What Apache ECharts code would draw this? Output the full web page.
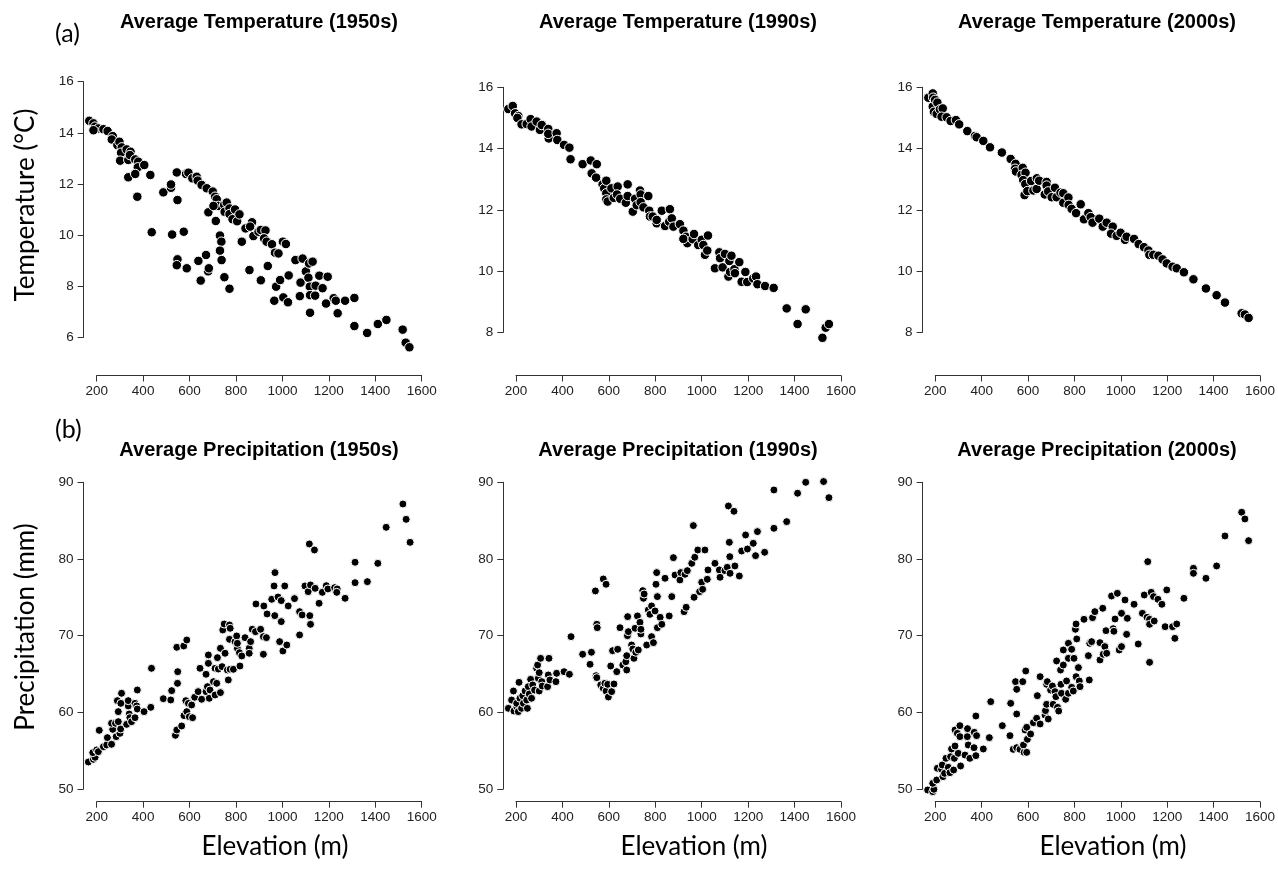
<!DOCTYPE html>
<html>
<head>
<meta charset="utf-8">
<script src="https://cdn.jsdelivr.net/npm/echarts@6/dist/echarts.min.js"></script>
<style>
html,body{margin:0;padding:0;background:#fff;}
#chart{width:1278px;height:870px;}
</style>
</head>
<body>
<div id="chart"></div>
<script>
// ---- Data: [elevation (m), value] ----
const panelTitles = [
  "Average Temperature (1950s)", "Average Temperature (1990s)", "Average Temperature (2000s)",
  "Average Precipitation (1950s)", "Average Precipitation (1990s)", "Average Precipitation (2000s)"
];
const xTickRange = [200, 1600, 200];
const tempTickRange1950 = [6, 16, 2];
const tempTickRangeLater = [8, 16, 2];
const precipTickRange = [50, 90, 10];

const temp1950 = [
[168,14.47],[186,14.37],[193,14.24],[207,14.17],[186,14.1],[229,14.14],[247,14.07],[269,13.87],[265,13.74],
[289,13.52],[298,13.65],[308,13.43],[305,13.22],[329,13.35],[346,13.26],[301,12.91],[336,12.94],[343,13.13],
[366,12.96],[379,12.87],[377,12.65],[405,12.74],[336,12.26],[366,12.39],[375,11.5],[431,12.35],[437,10.11],
[487,11.67],[520,11.85],[520,11.98],[545,12.45],[548,11.37],[525,10.02],[575,10.13],[548,9.05],[545,8.82],
[588,8.70],[585,12.39],[595,12.44],[612,12.22],[631,12.28],[635,12.13],[652,11.96],[674,11.83],[681,10.89],
[700,11.7],[710,11.5],[717,11.4],[724,11.14],[703,11.14],[713,10.55],[638,8.99],[648,8.22],[671,9.22],
[680,8.58],[683,8.70],[731,9.98],[737,9.74],[731,9.39],[738,9.02],[750,8.35],[772,7.9],[749,11.18],
[760,11.27],[751,10.91],[772,11.04],[772,10.82],[796,11.0],[785,10.62],[805,10.54],[815,10.81],[825,9.74],
[841,10.26],[869,10.5],[861,10.33],[875,9.96],[897,10.13],[907,10.2],[927,10.18],[921,9.87],[932,9.74],
[955,9.64],[858,8.63],[937,8.79],[907,8.23],[968,9.31],[983,9.28],[973,7.98],[990,8.24],[965,7.43],
[1002,9.74],[1015,9.65],[1004,7.56],[1024,7.37],[1027,8.42],[1056,9.02],[1087,9.08],[1078,8.14],[1075,7.61],
[1101,8.58],[1115,8.89],[1130,8.96],[1112,8.33],[1118,7.98],[1119,7.65],[1141,7.63],[1143,8.02],[1159,8.41],
[1173,7.92],[1195,8.37],[1119,6.96],[1188,7.32],[1221,7.53],[1230,7.43],[1238,6.94],[1270,7.43],[1310,7.54],
[1310,6.44],[1365,6.17],[1411,6.52],[1448,6.68],[1518,6.3],[1531,5.79],[1547,5.61]
];

const temp1990 = [
[167,15.29],[186,15.39],[196,15.15],[210,15.06],[206,15.0],[224,14.79],[246,14.8],[263,14.96],[267,14.72],
[289,14.88],[303,14.61],[311,14.77],[339,14.64],[341,14.33],[339,14.48],[375,14.5],[378,14.28],[407,14.12],
[430,14.03],[435,13.65],[487,13.49],[522,13.61],[526,13.19],[548,13.49],[545,13.05],[573,12.83],[580,12.70],
[589,12.95],[589,12.54],[589,12.34],[595,12.27],[611,12.70],[621,12.39],[638,12.76],[635,12.50],[649,12.36],
[673,12.23],[681,12.83],[681,12.45],[703,11.94],[713,12.36],[720,12.15],[734,12.63],[737,12.5],[737,12.25],
[749,12.08],[770,12.45],[774,11.97],[777,11.78],[789,11.78],[806,11.56],[806,11.67],[828,11.97],[842,11.47],
[863,12.02],[860,11.61],[871,11.72],[878,11.45],[906,11.53],[921,11.32],[932,11.12],[938,10.91],[921,11.05],
[961,11.04],[967,11.21],[985,10.85],[1000,11.02],[1007,10.85],[1014,10.53],[1024,10.67],[1027,11.16],
[1057,10.09],[1076,10.61],[1079,10.42],[1090,10.12],[1100,10.56],[1115,9.82],[1119,10.33],[1122,9.97],
[1128,10.5],[1141,10.06],[1143,9.93],[1162,10.29],[1172,9.65],[1188,9.97],[1196,9.64],[1222,9.76],[1234,9.82],
[1240,9.57],[1273,9.51],[1310,9.45],[1366,8.78],[1413,8.27],[1448,8.75],[1520,7.82],[1534,8.15],[1548,8.27]
];

const temp2000 = [
[170,15.66],[189,15.8],[191,15.66],[189,15.37],[199,15.59],[209,15.5],[194,15.2],[206,15.13],[220,15.28],
[232,15.31],[227,15.04],[249,15.02],[266,14.9],[289,14.93],[303,14.79],[338,14.57],[371,14.41],[378,14.37],
[407,14.25],[436,14.04],[487,13.87],[525,13.66],[546,13.5],[544,13.34],[548,13.25],[577,13.37],[572,13.14],
[589,13.21],[579,12.97],[588,12.84],[585,12.48],[597,12.61],[613,12.94],[623,12.63],[637,12.68],[638,13.03],
[648,12.95],[672,12.5],[680,12.91],[680,12.79],[687,12.6],[702,12.41],[716,12.72],[723,12.41],[740,12.56],
[752,12.54],[752,12.23],[774,12.40],[775,12.16],[788,12.03],[807,11.89],[827,12.18],[841,11.69],[860,11.89],
[870,11.76],[878,11.58],[907,11.71],[922,11.45],[939,11.58],[965,11.45],[958,11.22],[982,11.15],[999,11.25],
[1018,11.02],[1025,11.12],[1057,11.05],[1077,10.88],[1100,10.78],[1119,10.67],[1123,10.53],[1140,10.53],
[1162,10.5],[1180,10.38],[1198,10.25],[1223,10.14],[1241,10.09],[1272,9.96],[1313,9.73],[1367,9.43],
[1413,9.21],[1449,8.97],[1521,8.62],[1535,8.58],[1551,8.47]
];

const precip1950 = [
[164,53.52],[186,53.87],[193,54.13],[183,54.74],[200,55.09],[207,54.87],[229,55.52],[211,57.65],[243,55.74],
[246,56.7],[264,55.83],[269,57.78],[264,58.57],[281,58.57],[284,56.83],[300,57.26],[303,57.83],[293,58.78],
[289,61.52],[293,60.09],[304,61.17],[307,62.48],[329,58.43],[336,60.83],[336,61.52],[340,59.78],[343,59.3],
[350,58.78],[365,61.17],[365,59.3],[372,60.83],[375,62.91],[375,60.43],[404,60.09],[433,60.65],[436,65.74],
[487,61.78],[519,61.61],[523,62.83],[539,57.0],[545,57.7],[545,68.48],[548,63.78],[549,65.30],[566,58.22],
[575,68.65],[588,69.43],[576,59.57],[584,61.52],[588,60.09],[595,61.17],[599,59.43],[609,60.96],[613,59.3],
[622,61.96],[637,62.70],[645,65.74],[652,61.7],[671,64.96],[671,62.70],[677,63.35],[681,67.48],[685,61.83],
[688,62.91],[681,66.39],[703,64.0],[710,65.74],[710,62.26],[717,63.78],[720,67.13],[724,65.65],[733,68.35],
[733,62.57],[740,65.96],[743,70.74],[749,71.52],[753,67.7],[763,65.52],[767,64.22],[772,71.39],[772,69.52],
[775,70.96],[775,65.61],[789,65.61],[796,69.22],[803,69.96],[806,68.35],[806,69.0],[815,67.78],[817,66.04],
[825,67.35],[839,69.74],[857,68.35],[857,67.7],[863,69.22],[870,70.83],[884,70.52],[886,74.13],[906,70.83],
[918,67.57],[918,69.87],[920,73.87],[931,69.74],[934,72.83],[954,74.74],[964,76.48],[967,72.61],[968,78.22],
[981,75.04],[995,74.57],[995,71.83],[988,69.22],[1002,68.0],[1010,76.48],[1019,68.78],[1025,73.87],
[1052,74.83],[1074,73.13],[1074,70.09],[1085,72.7],[1097,76.48],[1111,75.74],[1116,81.96],[1118,72.61],
[1121,76.61],[1121,71.48],[1138,81.17],[1141,76.17],[1158,74.22],[1172,75.65],[1189,76.52],[1196,76.09],
[1225,76.26],[1236,76.09],[1234,75.65],[1270,74.87],[1313,79.57],[1313,76.91],[1366,77.04],[1411,79.43],
[1447,84.13],[1519,87.17],[1533,85.17],[1550,82.17]
];

const precip1990 = [
[167,60.52],[181,61.6],[189,62.78],[191,60.17],[203,60.74],[203,61.17],[210,60.09],[213,63.91],[217,61.83],
[224,60.52],[229,62.17],[232,61.17],[239,62.78],[246,61.6],[249,60.52],[253,63.35],[257,62.39],[263,64.3],
[267,61.83],[272,63.57],[280,62.91],[289,65.74],[293,66.17],[296,64.43],[300,65.17],[300,62.78],[306,67.04],
[311,64.0],[313,63.43],[336,63.35],[339,64.87],[342,67.04],[346,64.22],[372,64.0],[375,65.09],[407,65.3],
[430,64.96],[437,69.87],[487,67.57],[519,66.26],[525,67.83],[542,75.83],[545,64.78],[548,64.52],[548,71.48],
[550,71.04],[565,63.57],[576,77.39],[588,76.7],[576,63.13],[583,63.78],[588,62.78],[595,63.65],[598,62.0],
[612,62.7],[622,63.7],[608,66.04],[616,68.04],[634,65.3],[638,68.22],[648,71.04],[660,66.17],[673,66.6],
[677,65.52],[677,67.39],[680,70.0],[681,72.48],[684,70.52],[698,68.78],[703,68.26],[708,67.04],[713,70.96],
[716,67.83],[723,72.57],[727,68.13],[734,71.74],[738,70.22],[738,70.83],[746,75.87],[749,74.87],[752,75.43],
[763,68.78],[770,73.35],[777,72.78],[784,73.87],[784,69.87],[792,69.09],[799,73.22],[803,76.7],[806,78.22],
[809,75.09],[809,71.04],[821,72.39],[828,71.48],[842,77.48],[860,72.57],[871,75.09],[878,80.17],[885,77.91],
[906,77.26],[910,78.22],[924,73.13],[928,78.0],[933,73.7],[938,78.48],[957,79.43],[964,84.35],[967,75.0],
[970,80.22],[983,81.17],[991,75.74],[1000,76.96],[1004,76.04],[1014,81.17],[1024,77.35],[1027,78.57],
[1057,79.43],[1076,78.57],[1079,77.61],[1100,78.48],[1110,78.91],[1115,86.91],[1119,82.17],[1121,80.3],
[1122,78.13],[1139,86.22],[1143,79.09],[1162,77.78],[1172,81.04],[1189,83.13],[1197,81.3],[1222,82.04],
[1232,80.43],[1240,83.57],[1271,80.87],[1311,84.0],[1311,89.0],[1366,84.87],[1413,88.57],[1448,90.0],
[1525,90.1],[1548,88.0]
];

const precip2000 = [
[167,49.87],[189,49.65],[194,49.96],[189,50.74],[206,51.17],[209,52.7],[227,52.57],[230,53.13],[233,51.61],
[240,52.04],[246,54.0],[256,52.83],[263,52.13],[266,54.22],[270,55.22],[279,52.48],[282,54.0],[285,55.61],
[285,57.7],[295,57.26],[299,54.65],[306,58.26],[306,56.83],[309,53.0],[328,54.43],[338,56.83],[339,57.87],
[342,55.74],[349,54.0],[367,55.39],[368,57.39],[375,54.35],[375,59.52],[378,56.96],[407,55.22],[439,61.39],
[433,56.7],[489,58.26],[522,56.96],[525,61.17],[536,55.17],[546,64.0],[551,63.0],[551,59.78],[551,55.39],
[565,55.17],[577,64.0],[580,55.74],[590,65.39],[583,54.78],[587,57.7],[594,54.78],[597,56.48],[594,58.04],
[611,57.17],[623,58.65],[637,59.22],[640,62.17],[652,58.48],[652,64.65],[673,59.65],[675,60.22],[680,63.65],
[680,61.04],[683,64.0],[687,59.13],[697,62.91],[705,63.43],[708,61.04],[716,62.7],[720,62.04],[723,66.7],
[727,60.65],[732,60.17],[740,65.52],[742,63.65],[744,62.48],[752,66.17],[752,68.13],[762,61.7],[766,64.09],
[774,69.0],[774,67.04],[774,62.48],[788,68.22],[788,63.26],[795,62.78],[798,67.04],[804,70.83],[807,71.52],
[807,64.65],[810,69.57],[817,65.83],[821,64.09],[824,63.35],[841,72.13],[860,67.39],[864,64.22],[866,69.0],
[874,69.22],[878,72.35],[888,73.13],[910,69.09],[910,66.83],[922,73.57],[924,67.57],[931,68.57],[936,70.65],
[939,67.7],[960,75.17],[967,70.91],[970,70.57],[975,72.17],[985,75.52],[993,68.13],[1003,68.57],[1003,72.91],
[1018,74.65],[1025,70.17],[1028,72.26],[1057,74.09],[1075,68.91],[1093,72.91],[1101,75.3],[1116,79.65],
[1113,72.39],[1124,72.13],[1124,71.48],[1124,66.52],[1131,75.65],[1144,71.91],[1141,75.09],[1160,74.74],
[1177,74.09],[1191,71.17],[1198,75.96],[1223,71.17],[1233,69.65],[1241,71.52],[1272,74.87],[1313,78.78],
[1313,78.13],[1367,77.48],[1413,79.09],[1449,83.0],[1521,86.09],[1535,85.22],[1551,82.39]
];

const panelData = [temp1950, temp1990, temp2000, precip1950, precip1990, precip2000];
const yRanges = [tempTickRange1950, tempTickRangeLater, tempTickRangeLater, precipTickRange, precipTickRange, precipTickRange];

// ---- Layout (pixels) ----
const colLeft = [96.7, 516, 935.3];
const plotW = 325;
const layout = [
  {top: 81.7, h: 255.6, xOff: 38.2, yOff: 13},
  {top: 87.3, h: 245, xOff: 43.2, yOff: 12.7},
  {top: 87.3, h: 245, xOff: 43.2, yOff: 12.7},
  {top: 482.3, h: 306.7, xOff: 12.7, yOff: 13.2},
  {top: 482.3, h: 306.7, xOff: 12.7, yOff: 12.7},
  {top: 482.3, h: 306.7, xOff: 12.7, yOff: 12.7}
];
const symSizes = [9.5, 9.5, 9.5, 8, 8, 8];

const FONT = "'Liberation Sans', Arial, Helvetica, sans-serif";
const LAB = "Lato, 'Open Sans', sans-serif";
const axisColor = '#333';
const plainNum = v => String(v);

const grids = [], xAxes = [], yAxes = [], series = [];
for (let i = 0; i < 6; i++) {
  const L = layout[i];
  grids.push({left: colLeft[i % 3], top: L.top, width: plotW, height: L.h});
  xAxes.push({
    gridIndex: i, type: 'value', min: xTickRange[0], max: xTickRange[1], interval: xTickRange[2],
    position: 'bottom', offset: L.xOff,
    axisLine: {show: true, lineStyle: {color: axisColor, width: 1}},
    axisTick: {show: true, length: 6, lineStyle: {color: axisColor}},
    axisLabel: {color: '#222', fontFamily: FONT, fontSize: 13.5, margin: 9, formatter: plainNum,
      showMinLabel: true, showMaxLabel: true},
    splitLine: {show: false}
  });
  const yr = yRanges[i];
  yAxes.push({
    gridIndex: i, type: 'value', min: yr[0], max: yr[1], interval: yr[2],
    position: 'left', offset: L.yOff,
    axisLine: {show: true, lineStyle: {color: axisColor, width: 1}},
    axisTick: {show: true, length: 6, lineStyle: {color: axisColor}},
    axisLabel: {color: '#222', fontFamily: FONT, fontSize: 13.5, margin: 10, formatter: plainNum,
      showMinLabel: true, showMaxLabel: true},
    splitLine: {show: false}
  });
  series.push({
    type: 'scatter', xAxisIndex: i, yAxisIndex: i, data: panelData[i], clip: false,
    symbol: 'circle', symbolSize: symSizes[i],
    itemStyle: {color: '#000', borderColor: '#fff', borderWidth: 1, opacity: 1},
    emphasis: {disabled: true}
  });
}

const titleX = [259, 678, 1097];
const graphics = [];
for (let i = 0; i < 6; i++) {
  graphics.push({
    type: 'text', x: titleX[i % 3], y: i < 3 ? 22 : 450,
    style: {text: panelTitles[i], font: "bold 20px " + FONT, fill: '#000', align: 'center', verticalAlign: 'middle'}
  });
}
graphics.push({type: 'text', x: 55, y: 34, style: {text: '(a)', font: "25px " + LAB, fill: '#000', align: 'left', verticalAlign: 'middle'}});
graphics.push({type: 'text', x: 55, y: 430, style: {text: '(b)', font: "25px " + LAB, fill: '#000', align: 'left', verticalAlign: 'middle'}});
graphics.push({type: 'text', x: 26, y: 205, rotation: Math.PI / 2,
  style: {text: 'Temperature (°C)', font: "26px " + LAB, fill: '#000', align: 'center', verticalAlign: 'middle'}});
graphics.push({type: 'text', x: 26, y: 627, rotation: Math.PI / 2,
  style: {text: 'Precipitation (mm)', font: "26px " + LAB, fill: '#000', align: 'center', verticalAlign: 'middle'}});
const elevX = [275, 694, 1113];
for (let c = 0; c < 3; c++) {
  graphics.push({type: 'text', x: elevX[c], y: 847,
    style: {text: 'Elevation (m)', font: "26px " + LAB, fill: '#000', align: 'center', verticalAlign: 'middle'}});
}

const chart = echarts.init(document.getElementById('chart'), null, {renderer: 'canvas'});
chart.setOption({
  backgroundColor: '#fff',
  animation: false,
  grid: grids,
  xAxis: xAxes,
  yAxis: yAxes,
  series: series,
  graphic: graphics
});
</script>
</body>
</html>
